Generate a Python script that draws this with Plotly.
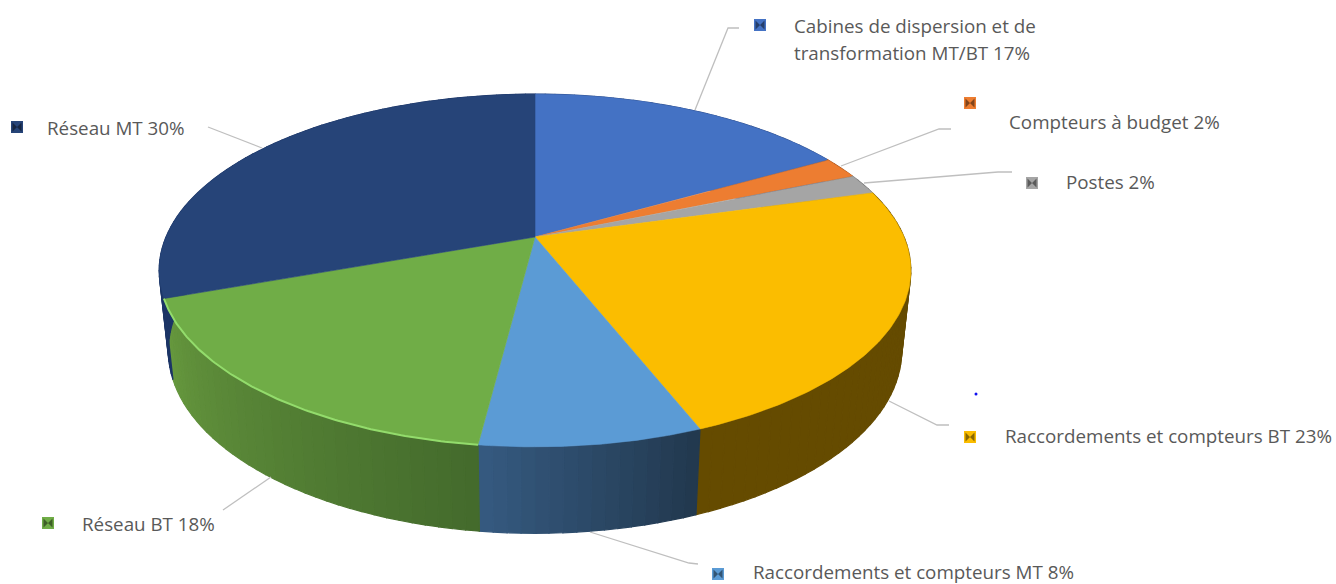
import numpy as np
import plotly.graph_objects as go

# ---- data ----
categories = ["Cabines de dispersion et de transformation MT/BT", "Compteurs à budget", "Postes",
              "Raccordements et compteurs BT", "Raccordements et compteurs MT", "Réseau BT", "Réseau MT"]
values = [16.7, 2.0, 1.9, 23.4, 8.0, 17.5, 30.5]
top_colors = ["#4472C4", "#ED7D31", "#A5A5A5", "#FBBD00", "#5B9BD5", "#70AD47", "#264478"]
wall_left = ["#2F4F8A", "#A0521F", "#6F6F6F", "#654B00", "#35597F", "#66983E", "#1C3566"]
wall_right = ["#2F4F8A", "#A0521F", "#6F6F6F", "#654B00", "#22394F", "#446B2C", "#1C3566"]
label_lines = [["Cabines de dispersion et de", "transformation MT/BT 17%"], ["Compteurs à budget 2%"], ["Postes 2%"],
               ["Raccordements et compteurs BT 23%"], ["Raccordements et compteurs MT 8%"],
               ["Réseau BT 18%"], ["Réseau MT 30%"]]

# ---- layout constants (page pixels) ----
W, H = 1336, 584
CX = 535
K = 0.19
TOP = dict(y0=237, a=369, b=170)
BOT = dict(y0=316, a=360, b=176)
label_xy = [[(792, 26), (792, 53)], [(1007, 122)], [(1064, 182)], [(1003, 436)], [(751, 572)], [(80, 524)], [(45, 128)]]
marker_xy = [(760, 25), (970, 103), (1032, 183), (970, 437), (718, 574), (48, 523), (17, 127)]
leaders = [[(695, 110), (728, 28), (739, 28)], [(841, 166), (939, 129), (951, 129)],
           [(864, 183), (998, 172), (1012, 172)], [(889, 401), (937, 425), (949, 425)],
           [(590, 532), (689, 563), (698, 564)], [(271, 477), (223, 510)], [(262, 148), (208, 127)]]
TEXT_COLOR = "#595959"
FONT = "Open Sans"
FONT_SIZE = 18.8


def project(theta, plane):
    """Perspective view of the pie plane; theta is clockwise from 12 o'clock."""
    u, v = np.sin(theta), np.cos(theta)
    d = 1 + K * v
    return CX + plane["a"] * u / d, plane["y0"] - plane["b"] * v / d


def mix(c1, c2, t):
    a = [int(c1[i:i + 2], 16) for i in (1, 3, 5)]
    b = [int(c2[i:i + 2], 16) for i in (1, 3, 5)]
    return "rgb(%d,%d,%d)" % tuple(round(p + (q - p) * t) for p, q in zip(a, b))


def poly(xs, ys, color, width=0.6):
    return go.Scatter(x=xs, y=ys, mode="lines", fill="toself", fillcolor=color,
                      line=dict(color=color, width=width), hoverinfo="skip", showlegend=False)


fig = go.Figure()
edges = np.cumsum([0] + values) / sum(values) * 2 * np.pi

# side walls, one narrow strip per step so that the shading can change along the arc
for i in range(len(values)):
    n = max(4, int(values[i] * 2))
    steps = np.linspace(edges[i], edges[i + 1], n + 1)
    for j in range(n):
        x1, y1 = project(steps[j], TOP)
        x2, y2 = project(steps[j + 1], TOP)
        x3, y3 = project(steps[j + 1], BOT)
        x4, y4 = project(steps[j], BOT)
        t = j / max(1, n - 1)  # theta runs right-to-left along the front of the pie
        fig.add_trace(poly([x1, x2, x3, x4, x1], [y1, y2, y3, y4, y1],
                           mix(wall_right[i], wall_left[i], t), width=1.2))

# top faces
apex_x, apex_y = CX, TOP["y0"]
for i in range(len(values)):
    th = np.linspace(edges[i], edges[i + 1], 120)
    xs, ys = project(th, TOP)
    fig.add_trace(poly([apex_x, *xs, apex_x], [apex_y, *ys, apex_y], top_colors[i]))

# light rim on the front of the green slice
th = np.linspace(edges[5], edges[6], 120)
xs, ys = project(th, TOP)
fig.add_trace(go.Scatter(x=xs, y=ys, mode="lines", line=dict(color="#93DC6C", width=2),
                         hoverinfo="skip", showlegend=False))

# leader lines
for pts in leaders:
    fig.add_trace(go.Scatter(x=[p[0] for p in pts], y=[p[1] for p in pts], mode="lines",
                             line=dict(color="#BFBFBF", width=1.3), hoverinfo="skip", showlegend=False))

# legend keys
fig.add_trace(go.Scatter(x=[p[0] for p in marker_xy], y=[p[1] for p in marker_xy], mode="markers",
                         marker=dict(symbol="square", size=12, color=top_colors),
                         hoverinfo="skip", showlegend=False))
fig.add_trace(go.Scatter(x=[p[0] for p in marker_xy], y=[p[1] for p in marker_xy], mode="markers",
                         marker=dict(symbol="bowtie", size=9, color=[mix(c, "#000000", 0.45) for c in top_colors]),
                         hoverinfo="skip", showlegend=False))

# stray blue dot
fig.add_trace(go.Scatter(x=[976], y=[394], mode="markers", marker=dict(size=3, color="#1010F0"),
                         hoverinfo="skip", showlegend=False))

annotations = []
for lines, xy in zip(label_lines, label_xy):
    for text, (x, y) in zip(lines, xy):
        annotations.append(dict(x=x, y=y, text=text, xref="x", yref="y", xanchor="left", yanchor="middle",
                                showarrow=False, align="left", font=dict(family=FONT, size=FONT_SIZE, color=TEXT_COLOR)))

fig.update_layout(width=W, height=H, autosize=False, margin=dict(l=0, r=0, t=0, b=0),
                  paper_bgcolor="white", plot_bgcolor="white", annotations=annotations,
                  xaxis=dict(range=[0, W], visible=False, fixedrange=True),
                  yaxis=dict(range=[H, 0], visible=False, fixedrange=True))
fig.write_html("out.html", config=dict(displayModeBar=False),
               post_script="document.body.style.margin='0';document.documentElement.style.overflow='hidden';")
